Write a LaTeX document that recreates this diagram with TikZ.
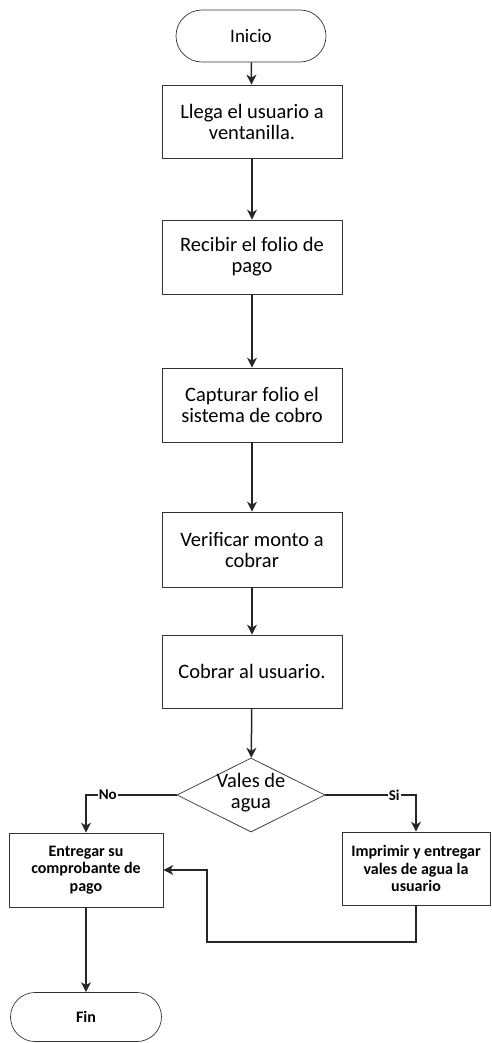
\documentclass[tikz,border=0pt]{standalone}
\usepackage{fontspec}
\setmainfont{Carlito}
\usetikzlibrary{shapes.geometric,shapes.misc,arrows.meta}
\begin{document}
\begin{tikzpicture}[x=1pt,y=-1pt,
  box/.style={draw=black!80,line width=0.7pt,rectangle,minimum width=180pt,minimum height=73pt,align=center,inner sep=2pt,font=\fontsize{20.5}{21}\selectfont},
  sbox/.style={draw=black!80,line width=0.7pt,rectangle,minimum width=150pt,minimum height=73pt,align=center,inner sep=2pt,font=\fontsize{16}{17.5}\selectfont\bfseries},
  term/.style={draw=black!80,line width=0.7pt,rounded rectangle,align=center,inner sep=2pt},
  dec/.style={draw=black!80,line width=0.7pt,diamond,inner sep=0pt,minimum width=148pt,minimum height=74pt},
  arr/.style={line width=1.5pt,draw=black!85,-{Stealth[length=10pt,width=10pt,inset=3pt]}},
  lab/.style={fill=white,inner sep=1pt,font=\fontsize{15}{16}\selectfont\bfseries}
]
\useasboundingbox (0,0) rectangle (491,1043);
\node[term,minimum width=154pt,minimum height=52pt,font=\fontsize{19}{20}\selectfont] (ini) at (251,36) {Inicio};
\node[box] (b1) at (252,121.5) {Llega el usuario a\\ventanilla.};
\node[box,minimum height=74pt] (b2) at (252,257) {Recibir el folio de\\pago};
\node[box,minimum height=74pt] (b3) at (252,405) {Capturar folio el\\sistema de cobro};
\node[box,minimum height=75pt] (b4) at (252,549.5) {Verificar monto a\\cobrar};
\node[box] (b5) at (252,671.5) {Cobrar al usuario.};
\node[dec] (dia) at (251,795) {};
\node[align=center,inner sep=0pt,font=\fontsize{20.5}{21}\selectfont] (diatext) at (251,793) {Vales de\\agua};
\node[sbox,minimum width=148pt] (imp) at (416,868.5) {Imprimir y entregar\\vales de agua la\\usuario};
\node[sbox,minimum width=154pt,minimum height=74pt] (ent) at (86,870) {Entregar su\\comprobante de\\pago};
\node[term,minimum width=155pt,minimum height=49pt,font=\fontsize{16}{17}\selectfont\bfseries] (fin) at (86,1017) {Fin};

\draw[arr] (ini) -- (b1);
\draw[arr] (b1) -- (b2);
\draw[arr] (b2) -- (b3);
\draw[arr] (b3) -- (b4);
\draw[arr] (b4) -- (b5);
\draw[arr] (b5) -- (dia);
\draw[arr] (dia.west) -| node[lab,pos=0.38] {No} (ent.north);
\draw[arr] (dia.east) -| node[lab,pos=0.38] {Si} (imp.north);
\coordinate (c1) at (416,942);
\coordinate (c2) at (207,942);
\coordinate (c3) at (207,870);
\draw[arr] (imp.south) -- (c1) -- (c2) -- (c3) -- (ent.east);
\draw[arr] (ent) -- (fin);
\end{tikzpicture}
\end{document}
